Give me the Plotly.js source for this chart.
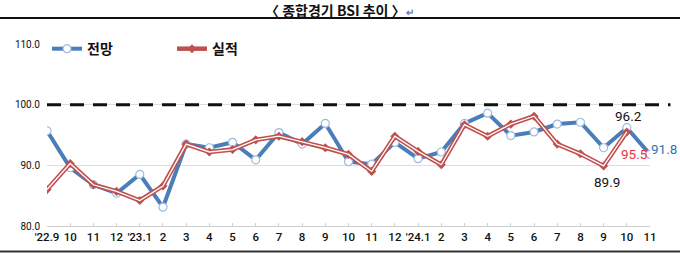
<!DOCTYPE html>
<html>
<head>
<meta charset="utf-8">
<script src="https://cdn.plot.ly/plotly-3.0.1.min.js"></script>
<style>
html,body{margin:0;padding:0;background:#fff;}
#chart{width:680px;height:253px;}
</style>
</head>
<body>
<div id="chart"></div>
<script>
const categories = ["'22.9","10","11","12","'23.1","2","3","4","5","6","7","8","9","10","11","12","'24.1","2","3","4","5","6","7","8","9","10","11"];
const outlook = [95.7,89.6,86.8,85.4,88.5,83.1,93.5,92.9,93.8,90.9,95.4,93.5,96.9,90.6,90.2,93.8,91.1,92.2,96.9,98.6,94.9,95.5,96.8,97.1,92.9,96.2,91.8];
const actual  = [86.0,90.3,86.8,85.7,84.2,86.6,93.5,92.2,92.6,94.2,94.8,93.9,92.9,91.8,89.0,94.8,92.3,90.1,96.7,94.8,96.8,98.1,93.5,91.9,89.9,95.5,null];
const seriesNames = ["전망","실적"];
const yTicks = [80,90,100,110];
const labelPoints = [
  {series:"outlook", idx:25, color:"#111111"},
  {series:"actual", idx:25, color:"#e8323c"},
  {series:"actual", idx:24, color:"#111111"},
  {series:"outlook", idx:26, color:"#2e75b6"}
];

const xIdx = categories.map((c,i)=>i);
const fam = "Roboto, sans-serif";

const traces = [
  {x:xIdx, y:outlook, type:'scatter', mode:'lines+markers', name:seriesNames[0],
   line:{color:'#4a7ebb', width:4},
   marker:{symbol:'circle', size:8, color:'#ffffff', line:{color:'#9dbbe0', width:1.2}}},
  {x:xIdx, y:actual, type:'scatter', mode:'lines+markers', name:seriesNames[1],
   line:{color:'#c0504d', width:4.5},
   marker:{symbol:'diamond', size:7, color:'#c0504d'}},
  {x:xIdx, y:actual, type:'scatter', mode:'lines', showlegend:false, hoverinfo:'skip',
   line:{color:'#ffffff', width:1.3}}
];

const anns = labelPoints.map(p=>{
  const arr = p.series==='outlook'?outlook:actual;
  const v = arr[p.idx];
  let xs=0, ys=0, xanchor='center', yanchor='middle';
  if (p.series==='outlook' && p.idx===25){ yanchor='bottom'; xs=2; ys=2; }
  else if (p.series==='actual' && p.idx===25){ xanchor='left'; yanchor='top'; xs=-8; ys=-12; }
  else if (p.series==='actual' && p.idx===24){ xanchor='center'; yanchor='top'; xs=3; ys=-6; }
  else { xanchor='left'; xs=-1; ys=5; }
  return {x:xIdx[p.idx], y:v, xref:'x', yref:'y', text:v.toFixed(1), showarrow:false,
    xanchor:xanchor, yanchor:yanchor, xshift:xs, yshift:ys,
    font:{family:fam, size:13.5, color:p.color}};
});

anns.push({xref:'paper', yref:'paper', x:0.485, y:1.187, xanchor:'center', yanchor:'middle',
  text:"〈 종합경기 BSI 추이 〉<span style='font-size:10px;color:#5a7fb5'>↵</span>", showarrow:false,
  font:{family:"Noto Sans CJK KR, sans-serif", size:14, color:'#111', weight:700}});

const layout = {
  width:680, height:253,
  margin:{l:47, r:30, t:44, b:27},
  paper_bgcolor:'#ffffff', plot_bgcolor:'#ffffff',
  showlegend:true,
  legend:{orientation:'h', x:0.0, y:1.06, xanchor:'left', yanchor:'top',
    font:{family:"Noto Sans CJK KR, sans-serif", size:14, color:'#111', weight:700},
    itemwidth:30, bgcolor:'rgba(0,0,0,0)', tracegroupgap:0, entrywidth:80},
  xaxis:{range:[0,26], tickvals:xIdx, ticktext:categories, showgrid:false, zeroline:false,
    showline:true, linecolor:'#d0d0d0', linewidth:1, ticks:'inside', ticklen:3, tickcolor:'#d0d0d0',
    tickangle:0, tickfont:{family:fam, size:11.5, color:'#111', weight:500}, fixedrange:true},
  yaxis:{range:[80,110], tickvals:yTicks, ticktext:yTicks.map(v=>v.toFixed(1)),
    showgrid:true, gridcolor:'#dedede', gridwidth:1, zeroline:false, showline:false,
    tickfont:{family:fam, size:10, color:'#111'}, ticks:'', ticklabelstandoff:6, fixedrange:true},
  shapes:[
    {type:'line', xref:'paper', yref:'y', x0:0, x1:1.034, y0:100, y1:100,
     line:{color:'#111', width:3, dash:'14px,9px'}},
    {type:'line', xref:'paper', yref:'paper', x0:-0.08, x1:1.06, y0:1.143, y1:1.143,
     line:{color:'#111', width:2}},
    {type:'line', xref:'paper', yref:'paper', x0:-0.08, x1:1.06, y0:-0.14, y1:-0.14,
     line:{color:'#333', width:2}}
  ],
  annotations:anns
};

Plotly.newPlot('chart', traces, layout, {displayModeBar:false, staticPlot:true});
</script>
</body>
</html>
